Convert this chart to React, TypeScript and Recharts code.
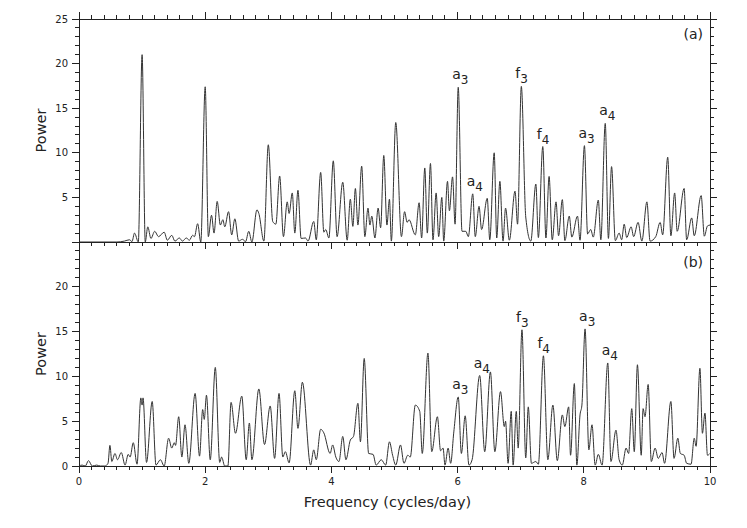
import React from 'react';
import { LineChart, Line, XAxis, YAxis, ReferenceDot } from 'recharts';

const W = 747;
const H = 528;
const FONT = '"DejaVu Sans", Verdana, sans-serif';
const INK = '#222';

// periodogram (a): [frequency, power] read at the local maxima / minima
const spectrumA: [number, number][] = [
  [0, 0], [0.6, 0], [0.72, 0.1], [0.8, 0.25], [0.84, 0.05], [0.88, 1.0], [0.94, 0], [1.0, 21.0],
  [1.05, 0], [1.09, 1.7], [1.14, 0.4], [1.2, 1.2], [1.26, 0.6], [1.35, 1.1], [1.4, 0.2], [1.47, 0.75],
  [1.52, 0.1], [1.59, 0.45], [1.64, 0.1], [1.7, 0.45], [1.75, 0.2], [1.8, 0.75], [1.83, 0.6], [1.88, 2.05],
  [1.93, 0], [2.0, 17.4], [2.05, 0.6], [2.1, 3.0], [2.14, 1.0], [2.19, 4.55], [2.24, 1.9], [2.28, 2.5],
  [2.31, 1.7], [2.37, 3.4], [2.42, 0.8], [2.47, 2.6], [2.53, 0.1], [2.59, 0.3], [2.64, 0.05], [2.69, 1.2],
  [2.74, 0], [2.82, 3.6], [2.85, 3.2], [2.93, 0.1], [3.0, 10.9], [3.07, 2.3], [3.12, 2.0], [3.18, 7.4],
  [3.24, 0.6], [3.3, 4.5], [3.33, 3.2], [3.38, 5.5], [3.42, 1.0], [3.47, 5.8], [3.52, 0.4], [3.59, 0.45],
  [3.63, 0.1], [3.72, 2.3], [3.76, 0.25], [3.83, 7.8], [3.88, 1.1], [3.91, 1.4], [3.96, 0.45], [4.03, 9.1],
  [4.09, 0.6], [4.18, 6.7], [4.25, 0.2], [4.3, 4.8], [4.34, 1.75], [4.38, 6.0], [4.42, 1.9], [4.48, 8.5],
  [4.53, 0.6], [4.58, 3.8], [4.61, 1.9], [4.64, 2.9], [4.69, 0.45], [4.74, 3.8], [4.78, 1.6], [4.83, 9.7],
  [4.88, 1.9], [4.92, 4.8], [4.95, 0.1], [5.02, 13.4], [5.11, 0.6], [5.16, 3.4], [5.2, 2.2], [5.23, 2.5],
  [5.33, 0.8], [5.39, 4.4], [5.43, 0.45], [5.48, 8.3], [5.52, 1.0], [5.57, 8.8], [5.61, 0.25], [5.66, 5.5],
  [5.7, 0.6], [5.75, 5.0], [5.78, 0.1], [5.84, 6.8], [5.87, 3.5], [5.92, 7.3], [5.96, 2.0], [6.01, 17.35],
  [6.07, 1.2], [6.13, 1.2], [6.17, 0.6], [6.24, 5.4], [6.28, 0.6], [6.34, 4.0], [6.38, 1.4], [6.47, 4.9],
  [6.51, 0.25], [6.58, 10.0], [6.62, 0.45], [6.67, 6.8], [6.72, 0.1], [6.76, 3.8], [6.82, 0.2], [6.91, 5.7],
  [6.95, 2.0], [7.01, 17.45], [7.08, 2.8], [7.16, 0.1], [7.24, 6.5], [7.28, 0.5], [7.35, 10.7], [7.4, 0.45],
  [7.45, 7.35], [7.5, 0.25], [7.56, 4.5], [7.6, 0.7], [7.66, 4.75], [7.7, 0.15], [7.77, 2.9], [7.81, 0.55],
  [7.9, 2.9], [7.94, 0.2], [8.01, 10.8], [8.06, 0.9], [8.11, 1.4], [8.15, 0.55], [8.23, 4.7], [8.27, 0.25],
  [8.34, 13.3], [8.39, 0.4], [8.44, 8.45], [8.5, 0.15], [8.56, 1.0], [8.6, 0.25], [8.64, 2.0], [8.68, 0.5],
  [8.75, 1.7], [8.79, 0.6], [8.86, 2.2], [8.92, 0.1], [9.0, 4.5], [9.05, 0.1], [9.14, 0.6], [9.21, 2.2],
  [9.25, 0.8], [9.33, 9.5], [9.38, 0.7], [9.44, 5.5], [9.48, 1.2], [9.59, 6.0], [9.63, 0.25], [9.71, 2.7],
  [9.75, 0.7], [9.86, 5.2], [9.91, 0.65], [9.96, 1.8], [10.0, 1.9],
];

// periodogram (b)
const spectrumB: [number, number][] = [
  [0, 0], [0.05, 0.1], [0.1, 0], [0.15, 0.6], [0.21, 0], [0.28, 0.1], [0.34, 0], [0.41, 0], [0.46, 0.3],
  [0.49, 2.3], [0.52, 0.5], [0.57, 1.4], [0.61, 0.7], [0.67, 1.5], [0.73, 0.1], [0.78, 1.3], [0.81, 1.0],
  [0.86, 2.6], [0.92, 0.2], [0.98, 7.6], [1.0, 6.8], [1.015, 7.6], [1.07, 0.4], [1.16, 7.2], [1.22, 0.1],
  [1.29, 0.7], [1.35, 0], [1.42, 3.1], [1.47, 2.0], [1.51, 2.6], [1.53, 2.3], [1.58, 5.5], [1.63, 1.0],
  [1.68, 4.6], [1.74, 0.3], [1.84, 8.1], [1.91, 1.1], [1.96, 6.3], [1.985, 5.2], [2.02, 7.9], [2.08, 0.7],
  [2.16, 11.0], [2.23, 0.4], [2.26, 1.0], [2.31, 0], [2.36, 0], [2.41, 7.1], [2.48, 3.65], [2.58, 7.8],
  [2.65, 0.7], [2.7, 4.8], [2.74, 0.7], [2.85, 8.6], [2.94, 2.4], [3.03, 6.7], [3.1, 0.85], [3.17, 8.1],
  [3.23, 1.0], [3.27, 1.6], [3.33, 0.35], [3.42, 8.4], [3.47, 4.2], [3.54, 9.35], [3.67, 0.1], [3.72, 1.8],
  [3.76, 0.7], [3.83, 4.1], [3.88, 3.7], [3.98, 1.4], [4.02, 2.35], [4.07, 1.0], [4.12, 0.5], [4.18, 3.3],
  [4.23, 0.7], [4.3, 2.9], [4.35, 3.3], [4.42, 7.0], [4.46, 2.7], [4.52, 12.0], [4.59, 1.4], [4.66, 1.3],
  [4.71, 0.1], [4.79, 0.7], [4.86, 0.1], [4.92, 2.7], [4.97, 1.2], [5.02, 0.1], [5.095, 2.35], [5.15, 0.3],
  [5.21, 1.2], [5.25, 1.0], [5.33, 6.8], [5.4, 6.1], [5.44, 1.4], [5.53, 12.6], [5.59, 1.6], [5.68, 5.5],
  [5.73, 1.7], [5.77, 2.0], [5.8, 0.1], [5.85, 2.0], [5.89, 0.3], [5.94, 3.8], [6.01, 7.7], [6.06, 1.4],
  [6.12, 5.6], [6.18, 0.1], [6.23, 0.7], [6.35, 10.1], [6.43, 1.6], [6.52, 10.5], [6.59, 1.6], [6.68, 8.3],
  [6.74, 4.4], [6.76, 5.0], [6.8, 0.3], [6.85, 6.1], [6.88, 0.1], [6.93, 6.1], [6.96, 2.0], [7.02, 15.2],
  [7.08, 0.9], [7.12, 6.6], [7.17, 0.3], [7.24, 0.5], [7.28, 0.2], [7.36, 12.3], [7.43, 0.7], [7.51, 6.8],
  [7.58, 0.6], [7.66, 5.7], [7.7, 4.4], [7.76, 6.6], [7.79, 1.2], [7.85, 9.2], [7.89, 0.1], [7.94, 5.7],
  [7.97, 6.8], [8.02, 15.3], [8.08, 1.8], [8.13, 4.6], [8.18, 0.1], [8.23, 1.3], [8.29, 0.1], [8.38, 11.5],
  [8.43, 0.5], [8.51, 4.0], [8.56, 0.7], [8.61, 0.1], [8.67, 2.0], [8.71, 1.4], [8.76, 6.4], [8.8, 1.6],
  [8.85, 11.3], [8.91, 1.2], [8.94, 6.4], [8.97, 5.5], [9.02, 9.1], [9.07, 0.5], [9.13, 2.0], [9.18, 0.85],
  [9.24, 1.5], [9.28, 0.3], [9.38, 7.2], [9.43, 0.85], [9.49, 3.1], [9.53, 1.4], [9.59, 1.2], [9.63, 0.3],
  [9.7, 0.2], [9.75, 3.1], [9.78, 2.2], [9.84, 10.9], [9.88, 3.65], [9.92, 5.9], [9.96, 1.2], [10.0, 1.4],
];

// identified peaks: frequency, power, symbol, subscript
const peaksA = [
  { f: 6.01, p: 17.35, name: 'a', sub: '3' },
  { f: 6.24, p: 5.4, name: 'a', sub: '4' },
  { f: 7.01, p: 17.45, name: 'f', sub: '3' },
  { f: 7.35, p: 10.7, name: 'f', sub: '4' },
  { f: 8.01, p: 10.8, name: 'a', sub: '3' },
  { f: 8.34, p: 13.3, name: 'a', sub: '4' },
];
const peaksB = [
  { f: 6.01, p: 7.7, name: 'a', sub: '3' },
  { f: 6.35, p: 10.1, name: 'a', sub: '4' },
  { f: 7.02, p: 15.2, name: 'f', sub: '3' },
  { f: 7.36, p: 12.3, name: 'f', sub: '4' },
  { f: 8.02, p: 15.3, name: 'a', sub: '3' },
  { f: 8.38, p: 11.5, name: 'a', sub: '4' },
];

const freqTicks = Array.from({ length: 51 }, (_, i) => Math.round(i * 2) / 10);
const powerTicks = Array.from({ length: 26 }, (_, i) => i);
const freqLabels = [0, 2, 4, 6, 8, 10];
const powerLabelsA = [5, 10, 15, 20, 25];
const powerLabelsB = [0, 5, 10, 15, 20];

const dataA = spectrumA.map(([f, p]) => ({ f, p }));
const dataB = spectrumB.map(([f, p]) => ({ f, p }));

const isMajorFreq = (v: number) => Math.abs(v / 2 - Math.round(v / 2)) < 1e-6;
const isMajorPower = (v: number) => v % 5 === 0;

type Side = 'top' | 'bottom' | 'left' | 'right';

// draws the tick mark (and its label if wanted) from the axis line outward
function edgeTick(side: Side, isMajor: (v: number) => boolean, labels?: number[]) {
  return (props: any) => {
    const { x, y, payload } = props;
    const v = payload.value;
    const len = isMajor(v) ? 7 : 4;
    const dx = side === 'left' ? -len : side === 'right' ? len : 0;
    const dy = side === 'top' ? -len : side === 'bottom' ? len : 0;
    const show = labels ? labels.some((l) => Math.abs(l - v) < 1e-6) : false;
    return (
      <g>
        <line x1={x} y1={y} x2={x + dx} y2={y + dy} stroke={INK} shapeRendering="crispEdges" />
        {show && side === 'bottom' && (
          <text x={x} y={y + 19} textAnchor="middle" fontSize={10} fontFamily={FONT} fill={INK}>
            {v}
          </text>
        )}
        {show && side === 'left' && (
          <text x={x - 11} y={y} dy="0.35em" textAnchor="end" fontSize={10} fontFamily={FONT} fill={INK}>
            {v}
          </text>
        )}
      </g>
    );
  };
}

const axisLine = { stroke: INK, strokeWidth: 1, shapeRendering: 'crispEdges' } as any;

const powerLabel = (props: any) => {
  const vb = props.viewBox;
  const x = vb.x + vb.width - 33;
  const y = vb.y + vb.height / 2;
  return (
    <text x={x} y={y} transform={`rotate(-90, ${x}, ${y})`} textAnchor="middle" fontSize={14.5} fontFamily={FONT} fill={INK}>
      Power
    </text>
  );
};

const freqLabel = (props: any) => {
  const vb = props.viewBox;
  return (
    <text x={vb.x + vb.width / 2 - 7} y={vb.y + 41} textAnchor="middle" fontSize={14.5} fontFamily={FONT} fill={INK}>
      Frequency (cycles/day)
    </text>
  );
};

const peakLabel = (pk: { name: string; sub: string }) => (props: any) => {
  const vb = props.viewBox;
  const cx = vb.x + (vb.width || 0) / 2;
  const cy = vb.y + (vb.height || 0) / 2;
  return (
    <text x={cx - 6} y={cy - 8} fontSize={14} fontFamily={FONT} fill={INK}>
      {pk.name}
      <tspan dy={5} fontSize={12}>
        {pk.sub}
      </tspan>
    </text>
  );
};

// axis sizes (space they take inside the margins)
const TOP_AXIS_H = 10;
const BOTTOM_AXIS_H = 20;
const LEFT_AXIS_W = 40;
const RIGHT_AXIS_W = 30;

function Panel(props: {
  data: { f: number; p: number }[];
  peaks: { f: number; p: number; name: string; sub: string }[];
  plotTop: number;
  plotBottom: number;
  powerLabels: number[];
  upper: boolean;
}) {
  const { data, peaks, plotTop, plotBottom, powerLabels, upper } = props;
  const margin = {
    top: plotTop - (upper ? TOP_AXIS_H : 0),
    bottom: H - plotBottom - BOTTOM_AXIS_H,
    left: 79 - LEFT_AXIS_W,
    right: W - 710 - RIGHT_AXIS_W,
  };
  return (
    <div style={{ position: 'absolute', left: 0, top: 0 }}>
      <LineChart width={W} height={H} data={data} margin={margin}>
        {upper && (
          <XAxis
            xAxisId="top"
            orientation="top"
            type="number"
            dataKey="f"
            domain={[0, 10]}
            allowDataOverflow
            ticks={freqTicks}
            interval={0}
            height={TOP_AXIS_H}
            tickSize={0}
            tickMargin={0}
            tickLine={false}
            axisLine={axisLine}
            tick={edgeTick('top', isMajorFreq)}
          />
        )}
        <XAxis
          xAxisId="main"
          orientation="bottom"
          type="number"
          dataKey="f"
          domain={[0, 10]}
          allowDataOverflow
          ticks={freqTicks}
          interval={0}
          height={BOTTOM_AXIS_H}
          tickSize={0}
          tickMargin={0}
          tickLine={false}
          axisLine={axisLine}
          tick={edgeTick('bottom', isMajorFreq, upper ? undefined : freqLabels)}
          label={upper ? undefined : freqLabel}
        />
        <YAxis
          yAxisId="left"
          orientation="left"
          type="number"
          domain={[0, 25]}
          allowDataOverflow
          ticks={powerTicks}
          interval={0}
          width={LEFT_AXIS_W}
          tickSize={0}
          tickMargin={0}
          tickLine={false}
          axisLine={axisLine}
          tick={edgeTick('left', isMajorPower, powerLabels)}
          label={powerLabel}
        />
        <YAxis
          yAxisId="right"
          orientation="right"
          type="number"
          domain={[0, 25]}
          allowDataOverflow
          ticks={powerTicks}
          interval={0}
          width={RIGHT_AXIS_W}
          tickSize={0}
          tickMargin={0}
          tickLine={false}
          axisLine={axisLine}
          tick={edgeTick('right', isMajorPower)}
        />
        <Line
          xAxisId="main"
          yAxisId="left"
          type="monotone"
          dataKey="p"
          stroke="#333"
          strokeWidth={1}
          dot={false}
          isAnimationActive={false}
        />
        {peaks.map((pk, i) => (
          <ReferenceDot
            key={`pk-${i}`}
            xAxisId="main"
            yAxisId="left"
            x={pk.f}
            y={pk.p}
            r={0}
            fill="none"
            stroke="none"
            label={peakLabel(pk)}
          />
        ))}
      </LineChart>
    </div>
  );
}

export default function App() {
  return (
    <div style={{ position: 'absolute', left: 0, top: 0, width: W, height: H, background: '#fff' }}>
      <Panel data={dataA} peaks={peaksA} plotTop={19} plotBottom={242} powerLabels={powerLabelsA} upper />
      <Panel data={dataB} peaks={peaksB} plotTop={242} plotBottom={466} powerLabels={powerLabelsB} upper={false} />
      <svg width={W} height={H} style={{ position: 'absolute', left: 0, top: 0, pointerEvents: 'none' }}>
        <text x={703} y={39} textAnchor="end" fontSize={14} fontFamily={FONT} fill={INK}>
          (a)
        </text>
        <text x={703} y={267} textAnchor="end" fontSize={14} fontFamily={FONT} fill={INK}>
          (b)
        </text>
      </svg>
    </div>
  );
}
